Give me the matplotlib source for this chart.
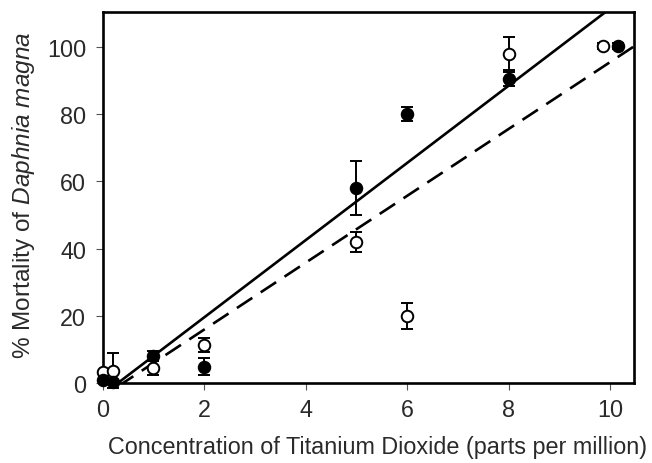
import matplotlib
matplotlib.use("Agg")
import matplotlib.pyplot as plt
import numpy as np

plt.rcParams['font.family'] = ['Liberation Sans', 'DejaVu Sans']
plt.rcParams['mathtext.fontset'] = 'custom'
plt.rcParams['mathtext.rm'] = 'Liberation Sans'
plt.rcParams['mathtext.it'] = 'Liberation Sans:italic'

# Filled (black) series
x_filled = [0.0, 0.2, 1.0, 2.0, 5.0, 6.0, 8.0, 10.15]
y_filled = [1.0, 0.3, 8.0, 4.8, 58.0, 80.0, 90.5, 100.3]
e_filled = [0.0, 0.0, 1.5, 2.5, 8.0, 2.0, 2.0, 1.0]

# Open (white) series
x_open = [0.0, 0.2, 1.0, 2.0, 5.0, 6.0, 8.0, 9.85]
y_open = [3.3, 3.7, 4.5, 11.3, 42.0, 20.0, 98.0, 100.3]
e_open = [0.0, 5.3, 2.0, 2.0, 3.0, 3.8, 5.0, 1.0]

# Regression lines (slope, intercept)
fit_solid = (11.49, -3.45)
fit_dashed = (9.95, -4.0)
line_x_range = (0.3, 10.6)

xticks = [0, 2, 4, 6, 8, 10]
yticks = [0, 20, 40, 60, 80, 100]

fig = plt.figure(figsize=(6.52, 4.64), dpi=100)
ax = fig.add_axes([0.1575, 0.1724, 0.8149, 0.7996])

xs = np.array(line_x_range)
ax.plot(xs, fit_solid[0] * xs + fit_solid[1], color='black', lw=1.9, zorder=2)
ax.plot(xs, fit_dashed[0] * xs + fit_dashed[1], color='black', lw=1.9,
        dashes=(7, 3.8), zorder=2)

ax.errorbar(x_open, y_open, yerr=e_open, fmt='o', color='black', mfc='white',
            mec='black', mew=1.4, ms=8.3, ecolor='black', elinewidth=1.4,
            capsize=4.3, capthick=1.4, zorder=3, clip_on=False)
ax.errorbar(x_filled, y_filled, yerr=e_filled, fmt='o', color='black', mfc='black',
            mec='black', mew=1.4, ms=8.3, ecolor='black', elinewidth=1.4,
            capsize=4.3, capthick=1.4, zorder=4, clip_on=False)

ax.set_xlim(0, 10.47)
ax.set_ylim(0, 110.4)
ax.set_xticks(xticks)
ax.set_yticks(yticks)
ax.tick_params(direction='out', length=5, width=0.8, color='#555555',
               labelsize=16.8, labelcolor='#2a2a2a')
ax.tick_params(axis='y', pad=7)
ax.tick_params(axis='x', pad=6)
for s in ax.spines.values():
    s.set_linewidth(1.9)
    s.set_color('black')

ax.set_xlabel('Concentration of Titanium Dioxide (parts per million)', fontsize=16.8,
              labelpad=10, color='#2a2a2a')
ax.xaxis.label.set_x(0.518)
ax.set_ylabel('% Mortality of $\\it{Daphnia\\ magna}$', fontsize=17.6,
              color='#2a2a2a')
ax.yaxis.set_label_coords(-0.124, 0.509)

fig.savefig('out.png', dpi=100)
